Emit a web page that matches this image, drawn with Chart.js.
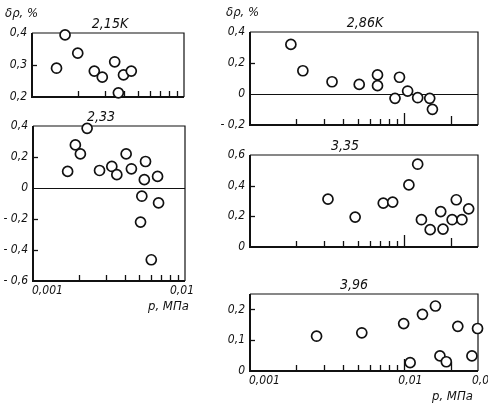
<!DOCTYPE html>
<html lang="ru">
<head>
<meta charset="utf-8">
<title>δρ - p</title>
<script src="https://cdn.jsdelivr.net/npm/chart.js@4"></script>
<style>
  body { margin: 0; background: #fff; }
  #lienzo { position: relative; width: 488px; height: 406px; }
  #lienzo canvas { position: absolute; left: 0; top: 0; }
</style>
</head>
<body>
<div id="lienzo">
  <canvas id="g215" width="488" height="406"></canvas>
  <canvas id="g233" width="488" height="406"></canvas>
  <canvas id="g286" width="488" height="406"></canvas>
  <canvas id="g335" width="488" height="406"></canvas>
  <canvas id="g396" width="488" height="406"></canvas>
</div>
<script>
// datos: presion p (MPa) y desviacion δρ (%)
const p215 = [0.00145, 0.00165, 0.0020, 0.00257, 0.0029, 0.0035, 0.0037, 0.0040, 0.0045];
const d215 = [0.290, 0.394, 0.337, 0.281, 0.262, 0.310, 0.213, 0.269, 0.281];

const p233 = [0.00169, 0.0019, 0.00205, 0.00227, 0.00274, 0.0033, 0.00356, 0.0041, 0.00444,
              0.0055, 0.0054, 0.0066, 0.0052, 0.0067, 0.0051, 0.0060];
const d233 = [0.107, 0.278, 0.220, 0.385, 0.113, 0.139, 0.086, 0.220, 0.124,
              0.171, 0.054, 0.075, -0.053, -0.096, -0.220, -0.463];

const p286 = [0.00184, 0.0022, 0.0034, 0.0051, 0.0067, 0.0067, 0.0087, 0.0093, 0.0105, 0.0122, 0.0146, 0.0152];
const d286 = [0.320, 0.150, 0.079, 0.062, 0.123, 0.054, -0.028, 0.108, 0.019, -0.024, -0.028, -0.099];

const p335 = [0.0032, 0.0048, 0.0073, 0.0084, 0.0107, 0.0122, 0.0129, 0.0147, 0.0172, 0.0178, 0.0204, 0.0217, 0.0236, 0.0261];
const d335 = [0.312, 0.195, 0.286, 0.293, 0.405, 0.540, 0.178, 0.113, 0.231, 0.117, 0.178, 0.308, 0.178, 0.249];

const p396 = [0.0027, 0.0053, 0.0099, 0.0109, 0.0131, 0.0159, 0.0170, 0.0187, 0.0222, 0.0274, 0.0298];
const d396 = [0.113, 0.124, 0.154, 0.027, 0.184, 0.211, 0.049, 0.030, 0.145, 0.049, 0.138];

// etiquetas de los ejes
const etiquetasY215 = [0.4, 0.3, 0.2];
const etiquetasY233 = [0.4, 0.2, 0, -0.2, -0.4, -0.6];
const etiquetasY286 = [0.4, 0.2, 0, -0.2];
const etiquetasY335 = [0.6, 0.4, 0.2, 0];
const etiquetasY396 = [0.2, 0.1, 0];
const valoresXIzq = [0.001, 0.01];
const textosXIzq = ["0,001", "0,01"];
const valoresXDer = [0.001, 0.01, 0.03];
const textosXDer = ["0,001", "0,01", "0,03"];
const marcasXIzq = [0.002, 0.003, 0.004, 0.005, 0.006, 0.007, 0.008, 0.009];
const marcasXDer = [0.002, 0.003, 0.004, 0.005, 0.006, 0.007, 0.008, 0.009, 0.01, 0.02];

const fuente = '"DejaVu Sans Condensed", "DejaVu Sans", sans-serif';

function formato(v) {
  if (v === 0) return "0";
  return (v < 0 ? "- " : "") + Math.abs(v).toString().replace(".", ",");
}

// plugin que dibuja el marco, las marcas y los textos
const marco = {
  id: "marco",
  beforeDatasetsDraw(chart, args, op) {
    const ctx = chart.ctx;
    const a = chart.chartArea;
    const ex = chart.scales.x;
    const ey = chart.scales.y;
    ctx.save();
    ctx.strokeStyle = "#111";
    ctx.fillStyle = "#111";

    ctx.lineWidth = 1.2;
    ctx.beginPath();
    ctx.moveTo(a.left, a.top);
    ctx.lineTo(a.right, a.top);
    ctx.lineTo(a.right, a.bottom);
    ctx.stroke();

    ctx.lineWidth = 2;
    ctx.beginPath();
    ctx.moveTo(a.left, a.top);
    ctx.lineTo(a.left, a.bottom);
    ctx.lineTo(a.right, a.bottom);
    ctx.stroke();

    // linea del cero
    if (op.cero) {
      const y0 = Math.round(ey.getPixelForValue(0)) + 0.5;
      ctx.lineWidth = 1;
      ctx.beginPath();
      ctx.moveTo(a.left, y0);
      ctx.lineTo(a.right, y0);
      ctx.stroke();
    }

    // marcas del eje x hacia adentro
    ctx.lineWidth = 1.3;
    op.marcasX.forEach(v => {
      const px = Math.round(ex.getPixelForValue(v)) + 0.5;
      let largo = 6;
      if (v === 0.01) largo = 12;
      if (v === 0.02) largo = 9;
      ctx.beginPath();
      ctx.moveTo(px, a.bottom);
      ctx.lineTo(px, a.bottom - largo);
      ctx.stroke();
    });

    // marcas y textos del eje y
    ctx.font = "italic 12px " + fuente;
    ctx.textAlign = "right";
    ctx.textBaseline = "middle";
    op.etiquetasY.forEach(v => {
      const py = ey.getPixelForValue(v);
      if (py > a.top + 2 && py < a.bottom - 2 && v !== 0) {
        ctx.beginPath();
        ctx.moveTo(a.left, Math.round(py) + 0.5);
        ctx.lineTo(a.left + 5, Math.round(py) + 0.5);
        ctx.stroke();
      }
      ctx.fillText(formato(v), a.left - 5, py);
    });

    // textos del eje x
    if (op.valoresX) {
      ctx.textBaseline = "top";
      op.valoresX.forEach((v, i) => {
        const px = ex.getPixelForValue(v);
        if (i === 0) {
          ctx.textAlign = "left";
          ctx.fillText(op.textosX[i], px - 1, a.bottom + 4);
        } else {
          ctx.textAlign = "center";
          ctx.fillText(op.textosX[i], px + op.corrX, a.bottom + 4);
        }
      });
      ctx.font = "italic 13px " + fuente;
      ctx.textAlign = "left";
      ctx.textBaseline = "middle";
      ctx.fillText("p, МПа", op.ejeX[0], op.ejeX[1]);
    }

    // titulo del panel
    ctx.font = "italic 14px " + fuente;
    ctx.textAlign = "center";
    ctx.textBaseline = "alphabetic";
    ctx.fillText(op.titulo, op.tituloX, a.top - 5);

    if (op.ejeY) {
      ctx.font = "italic 13px " + fuente;
      ctx.textAlign = "left";
      ctx.textBaseline = "middle";
      ctx.fillText("δρ, %", op.ejeY[0], op.ejeY[1]);
    }
    ctx.restore();
  }
};

function crearPanel(id, presiones, desviaciones, area, xMax, yMin, yMax, extra) {
  const puntos = presiones.map((p, i) => ({ x: p, y: desviaciones[i] }));
  return new Chart(document.getElementById(id), {
    type: "scatter",
    data: {
      datasets: [{
        data: puntos,
        pointRadius: 5,
        pointHoverRadius: 5,
        pointBorderWidth: 1.7,
        pointBorderColor: "#111",
        pointBackgroundColor: "#fff",
        clip: false
      }]
    },
    options: {
      responsive: false,
      animation: false,
      devicePixelRatio: 1,
      layout: { padding: { left: area[0], right: 488 - area[1], top: area[2], bottom: 406 - area[3] } },
      scales: {
        x: { type: "logarithmic", min: 0.001, max: xMax, display: false },
        y: { type: "linear", min: yMin, max: yMax, display: false }
      },
      plugins: {
        legend: { display: false },
        tooltip: { enabled: false },
        marco: extra
      }
    },
    plugins: [marco]
  });
}

crearPanel("g215", p215, d215, [32, 184, 33, 97], 0.01, 0.2, 0.4, {
  titulo: "2,15K", tituloX: 110, etiquetasY: etiquetasY215, marcasX: marcasXIzq, ejeY: [5, 14]
});
crearPanel("g233", p233, d233, [33, 185, 126, 281], 0.01, -0.6, 0.4, {
  titulo: "2,33", tituloX: 101, etiquetasY: etiquetasY233, marcasX: marcasXIzq, cero: true,
  valoresX: valoresXIzq, textosX: textosXIzq, corrX: -3, ejeX: [148, 307]
});
crearPanel("g286", p286, d286, [250, 478, 32, 125], 0.03, -0.2, 0.4, {
  titulo: "2,86K", tituloX: 365, etiquetasY: etiquetasY286, marcasX: marcasXDer, cero: true, ejeY: [226, 13]
});
crearPanel("g335", p335, d335, [250, 478, 155, 247], 0.03, 0, 0.6, {
  titulo: "3,35", tituloX: 345, etiquetasY: etiquetasY335, marcasX: marcasXDer
});
crearPanel("g396", p396, d396, [250, 478, 294, 371], 0.03, 0, 0.25, {
  titulo: "3,96", tituloX: 354, etiquetasY: etiquetasY396, marcasX: marcasXDer,
  valoresX: valoresXDer, textosX: textosXDer, corrX: 6, ejeX: [432, 397]
});
</script>
</body>
</html>
